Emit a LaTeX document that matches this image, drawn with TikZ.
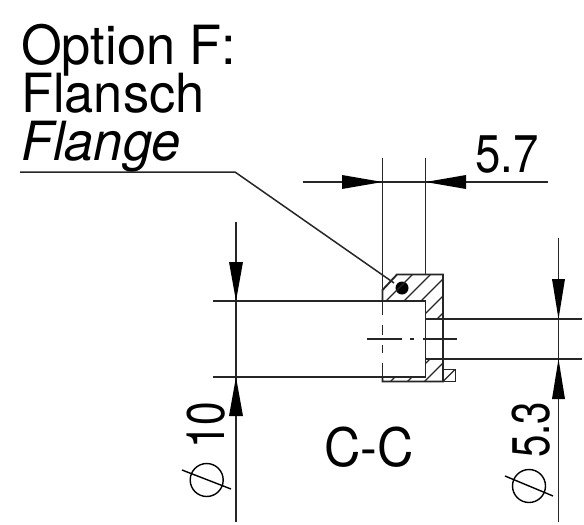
\documentclass[tikz,border=0pt]{standalone}
\usepackage{fontspec}
\setmainfont{TeX Gyre Heros}
\begin{document}
\begin{tikzpicture}[x=1pt,y=-1pt,
  thin line/.style={line width=1.5pt,black!85},
  outline/.style={line width=1.9pt,black!85},
  hatch/.style={line width=1.4pt,black!85},
  tip/.style={fill=black,draw=none},
  big/.style={inner sep=0pt,anchor=base west,font=\fontsize{54}{54}\selectfont},
  dim/.style={inner sep=0pt,font=\fontsize{53}{53}\selectfont}]
\useasboundingbox (0,0) rectangle (584,525);
% texts
\node[big] (t1) at (21,64) {\scalebox{0.97}[1]{Option F:}};
\node[big] (t2) at (21,112) {\scalebox{0.97}[1]{Flansch}};
\node[big] (t3) at (21,160) {\scalebox{0.97}[1]{\itshape Flange}};
\node[dim,anchor=base west] (d57) at (475,172) {\scalebox{0.86}[1]{5.7}};
\node[dim,anchor=base] (cc) at (369,466) {\scalebox{0.95}[1]{C-C}};
\node[dim,anchor=base west,rotate=90] (d10) at (224,449) {\scalebox{0.8}[1]{10}};
\node[dim,anchor=base west,rotate=90] (d53) at (549,458) {\scalebox{0.76}[1]{5.3}};
% leader
\coordinate (l0) at (20,172);
\coordinate (l1) at (235,172);
\coordinate (l2) at (394,283);
\draw[thin line] (l0) -- (l1) -- (l2);
\fill (402,288) circle (6.5);
% hatching
\begin{scope}
\clip (382.5,290) -- (397,274.5) -- (443,274.5) -- (443,319) -- (425.5,319) -- (425.5,301) -- (382.5,301) -- cycle;
\foreach \s in {687,705,722,739,756}
  \draw[hatch] (\s-250,250) -- (\s-400,400);
\end{scope}
\begin{scope}
\clip (382.5,377) -- (425.5,377) -- (425.5,359) -- (443,359) -- (443,381.5) -- (382.5,381.5) -- cycle;
\foreach \s in {772,789,806}
  \draw[hatch] (\s-350,350) -- (\s-400,400);
\end{scope}
\draw[hatch] (443,381.5) -- (455,369.5);
% outline
\draw[outline] (382.5,301) -- (382.5,290) -- (397,274.5) -- (443,274.5) -- (443,381.5) -- (382.5,381.5) -- (382.5,377);
\draw[outline] (382.5,301) -- (425.5,301) -- (425.5,377) -- (382.5,377);
\draw[outline] (425.5,319) -- (443,319);
\draw[outline] (425.5,359) -- (443,359);
\draw[outline] (443,369.5) rectangle (455.5,381.5);
% center lines
\draw[thin line] (367,339) -- (401.5,339) (410,339) -- (414,339) (423,339) -- (457,339);
\draw[thin line] (382.5,301) -- (382.5,315) (382.5,325) -- (382.5,335) (382.5,345) -- (382.5,353) (382.5,363) -- (382.5,377);
% extension lines
\draw[thin line] (382.5,158) -- (382.5,290);
\draw[thin line] (425.5,158) -- (425.5,274.5);
\draw[thin line] (213,301) -- (382.5,301);
\draw[thin line] (213,377) -- (382.5,377);
\draw[thin line] (443,319) -- (582,319);
\draw[thin line] (443,359) -- (582,359);
% dimension lines
\draw[thin line] (303,182) -- (548,182);
\draw[thin line] (236,222) -- (236,522);
\draw[thin line] (558.5,238) -- (558.5,522);
% arrowheads
\fill[tip] (382.5,182) -- (342,175) -- (342,189) -- cycle;
\fill[tip] (425.5,182) -- (466,175) -- (466,189) -- cycle;
\fill[tip] (236,301) -- (229,262) -- (243,262) -- cycle;
\fill[tip] (236,377) -- (229,416) -- (243,416) -- cycle;
\fill[tip] (558.5,319) -- (552,279) -- (565,279) -- cycle;
\fill[tip] (558.5,359) -- (552,399) -- (565,399) -- cycle;
% diameter symbols
\draw[line width=1.4pt] (206.7,480) circle (16.5);
\draw[line width=1.4pt] (182,470) -- (231,489);
\draw[line width=1.4pt] (529,486) circle (16.5);
\draw[line width=1.4pt] (505,476) -- (553,496);
\end{tikzpicture}
\end{document}
